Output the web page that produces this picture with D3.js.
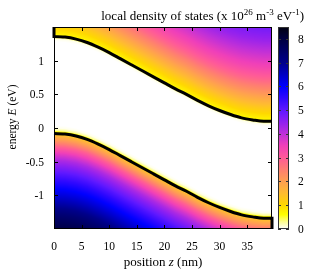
<!DOCTYPE html>
<html>
<head>
<meta charset="utf-8">
<script src="https://cdn.jsdelivr.net/npm/d3@7"></script>
<style>
  body { margin: 0; background: #fff; }
  #wrap { position: relative; width: 312px; height: 273px; }
  canvas, svg { position: absolute; left: 0; top: 0; }
  text { font-family: "Liberation Serif", "DejaVu Serif", serif; fill: #000; }
</style>
</head>
<body>
<div id="wrap"></div>
<script>
// band edges (eV) vs position (nm)
const zEdge = [0, 2, 4, 6, 8, 10, 12, 14, 16, 18, 20, 22, 24, 26, 28, 30, 32, 34, 36, 38, 39.5];
const condEdge = [1.36, 1.35, 1.32, 1.27, 1.20, 1.12, 1.03, 0.94, 0.85, 0.76, 0.67, 0.58, 0.50, 0.41, 0.33, 0.26, 0.20, 0.15, 0.12, 0.10, 0.10];
const valEdge = [-0.08, -0.09, -0.12, -0.17, -0.24, -0.32, -0.41, -0.50, -0.59, -0.68, -0.77, -0.86, -0.94, -1.03, -1.11, -1.18, -1.24, -1.29, -1.32, -1.34, -1.34];

// LDOS (x 1e26 m^-3 eV^-1) vs distance from the band edge into the band (eV)
const edgeDist = [-0.12, -0.08, -0.04, 0, 0.05, 0.1, 0.2, 0.3, 0.4, 0.6, 0.8, 1.0, 1.2, 1.4, 1.6];
const condLdos = [0, 0, 0.05, 0.6, 0.8, 0.95, 1.3, 1.7, 2.1, 2.8, 3.4, 3.9, 4.4, 4.8, 5.1];
const valLdos = [0, 0.05, 0.3, 1.2, 1.7, 2.1, 2.9, 3.6, 4.2, 5.1, 5.9, 6.6, 7.3, 7.9, 8.4];

// colour bar
const cbValues = [0, 0.3, 0.6, 1, 1.5, 2, 2.5, 3, 3.5, 4, 4.5, 5, 5.5, 6, 7, 8, 8.5];
const cbColors = ['#ffffff', '#ffff90', '#ffff00', '#ffd800', '#ffbc30', '#ffa050', '#ff7f70', '#ff5a98', '#f040b8', '#c030d8', '#9020f0', '#6018ff', '#3008ff', '#0000ff', '#00008a', '#000040', '#000010'];

const xTicks = [0, 5, 10, 15, 20, 25, 30, 35];
const yTicks = [-1, -0.5, 0, 0.5, 1];
const cbTicks = [0, 1, 2, 3, 4, 5, 6, 7, 8];

const W = 312, H = 273;
const plot = { left: 54, right: 272, top: 27, bottom: 229 };
const bar = { left: 278, right: 289 };

const x = d3.scaleLinear().domain([0, 39.5]).range([plot.left, plot.right]);
const y = d3.scaleLinear().domain([-1.5, 1.5]).range([plot.bottom, plot.top]);
const cb = d3.scaleLinear().domain([0, 8.5]).range([plot.bottom, plot.top]);
const color = d3.scaleLinear().domain(cbValues).range(cbColors).interpolate(d3.interpolateRgb).clamp(true);

const ecAt = d3.scaleLinear().domain(zEdge).range(condEdge).clamp(true);
const evAt = d3.scaleLinear().domain(zEdge).range(valEdge).clamp(true);
const condAt = d3.scaleLinear().domain(edgeDist).range(condLdos).clamp(true);
const valAt = d3.scaleLinear().domain(edgeDist).range(valLdos).clamp(true);

const wrap = d3.select('#wrap');

// heat map
const canvas = wrap.append('canvas').attr('width', W).attr('height', H).node();
const ctx = canvas.getContext('2d');
const pw = plot.right - plot.left, ph = plot.bottom - plot.top;
const img = ctx.createImageData(pw, ph);
for (let i = 0; i < pw; i++) {
	const z = x.invert(plot.left + i + 0.5);
	const ec = ecAt(z), ev = evAt(z);
	for (let j = 0; j < ph; j++) {
		const e = y.invert(plot.top + j + 0.5);
		const v = condAt(e - ec) + valAt(ev - e);
		const c = d3.rgb(color(v));
		const k = (j * pw + i) * 4;
		img.data[k] = c.r; img.data[k + 1] = c.g; img.data[k + 2] = c.b; img.data[k + 3] = 255;
	}
}
ctx.putImageData(img, plot.left, plot.top);

// colour bar
const bw = bar.right - bar.left, bh = plot.bottom - plot.top;
const bimg = ctx.createImageData(bw, bh);
for (let j = 0; j < bh; j++) {
	const c = d3.rgb(color(cb.invert(plot.top + j + 0.5)));
	for (let i = 0; i < bw; i++) {
		const k = (j * bw + i) * 4;
		bimg.data[k] = c.r; bimg.data[k + 1] = c.g; bimg.data[k + 2] = c.b; bimg.data[k + 3] = 255;
	}
}
ctx.putImageData(bimg, bar.left, plot.top);

const svg = wrap.append('svg').attr('width', W).attr('height', H);

// band edge lines
const line = d3.line().x(d => x(d[0])).y(d => y(d[1])).curve(d3.curveMonotoneX);
const condPts = zEdge.map((z, i) => [z, condEdge[i]]);
const valPts = zEdge.map((z, i) => [z, valEdge[i]]);
svg.append('clipPath').attr('id', 'clip').append('rect')
	.attr('x', plot.left - 2).attr('y', plot.top).attr('width', pw + 4).attr('height', ph);
svg.append('path')
	.attr('d', 'M' + x(0) + ',' + y(1.5) + 'L' + line(condPts).slice(1))
	.attr('fill', 'none').attr('stroke', '#000').attr('stroke-width', 3).attr('clip-path', 'url(#clip)');
svg.append('path')
	.attr('d', line(valPts) + 'L' + x(39.5) + ',' + y(-1.5))
	.attr('fill', 'none').attr('stroke', '#000').attr('stroke-width', 3).attr('clip-path', 'url(#clip)');

// frame and ticks
svg.append('rect').attr('x', plot.left + 0.5).attr('y', plot.top + 0.5).attr('width', pw - 1).attr('height', ph - 1)
	.attr('fill', 'none').attr('stroke', '#000').attr('stroke-width', 1);
xTicks.forEach(t => {
	const px = Math.round(x(t)) + 0.5;
	svg.append('line').attr('x1', px).attr('x2', px).attr('y1', plot.bottom).attr('y2', plot.bottom - 4).attr('stroke', '#000');
	svg.append('line').attr('x1', px).attr('x2', px).attr('y1', plot.top).attr('y2', plot.top + 4).attr('stroke', '#000');
	svg.append('text').attr('x', x(t)).attr('y', 250).attr('text-anchor', 'middle').attr('font-size', 11.5).text(t);
});
yTicks.forEach(t => {
	const py = Math.round(y(t)) + 0.5;
	svg.append('line').attr('x1', plot.left).attr('x2', plot.left + 4).attr('y1', py).attr('y2', py).attr('stroke', '#000');
	svg.append('line').attr('x1', plot.right).attr('x2', plot.right - 4).attr('y1', py).attr('y2', py).attr('stroke', '#000');
	svg.append('text').attr('x', 44).attr('y', y(t) + 4).attr('text-anchor', 'end').attr('font-size', 11.5).text(t);
});

// colour bar frame and ticks
svg.append('rect').attr('x', bar.left + 0.5).attr('y', plot.top + 0.5).attr('width', bw - 1).attr('height', bh - 1)
	.attr('fill', 'none').attr('stroke', '#333').attr('stroke-width', 1);
cbTicks.forEach(t => {
	const py = Math.round(cb(t)) + 0.5;
	svg.append('line').attr('x1', bar.left).attr('x2', bar.left + 3).attr('y1', py).attr('y2', py).attr('stroke', '#333');
	svg.append('line').attr('x1', bar.right).attr('x2', bar.right - 3).attr('y1', py).attr('y2', py).attr('stroke', '#333');
	svg.append('text').attr('x', 298).attr('y', cb(t) + 4).attr('font-size', 11.5).text(t);
});

// labels
const title = svg.append('text').attr('x', 304).attr('y', 20).attr('text-anchor', 'end').attr('font-size', 13);
title.append('tspan').text('local density of states (x 10');
title.append('tspan').attr('dy', -5).attr('font-size', 9).text('26');
title.append('tspan').attr('dy', 5).text(' m');
title.append('tspan').attr('dy', -5).attr('font-size', 9).text('-3');
title.append('tspan').attr('dy', 5).text(' eV');
title.append('tspan').attr('dy', -5).attr('font-size', 9).text('-1');
title.append('tspan').attr('dy', 5).text(')');

const xl = svg.append('text').attr('x', 163).attr('y', 266).attr('text-anchor', 'middle').attr('font-size', 13);
xl.append('tspan').text('position ');
xl.append('tspan').attr('font-style', 'italic').text('z');
xl.append('tspan').text(' (nm)');

const yl = svg.append('text').attr('transform', 'translate(16,117) rotate(-90)').attr('text-anchor', 'middle').attr('font-size', 11.5);
yl.append('tspan').text('energy ');
yl.append('tspan').attr('font-style', 'italic').text('E');
yl.append('tspan').text(' (eV)');
</script>
</body>
</html>
